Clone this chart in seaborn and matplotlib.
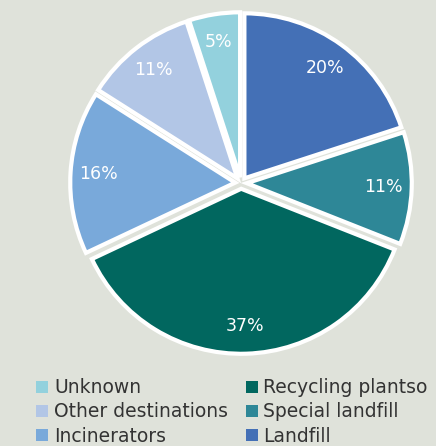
import seaborn as sns
from matplotlib import pyplot as plt
from matplotlib.patches import Patch

# Waste destinations, clockwise from 12 o'clock
labels = ["Landfill", "Special landfill", "Recycling plantso", "Incinerators",
          "Other destinations", "Unknown"]
shares = [20, 11, 37, 16, 11, 5]
colors = ["#4470b6", "#2e8797", "#01675f", "#79a9da", "#b2c6e6", "#93d1dd"]

bg = "#dfe2da"
sns.set_theme(style="white", rc={"figure.facecolor": bg, "axes.facecolor": bg})
plt.rcParams["font.family"] = ["DejaVu Sans"]

fig = plt.figure(figsize=(4.36, 4.46), dpi=100)
W, H = 436, 446
R = 165  # pixels per pie unit
cx, cy = 241, 183
lim = 1.1
size = 2 * lim * R
ax = fig.add_axes([(cx - size / 2) / W, (H - cy - size / 2) / H, size / W, size / H])
ax.set_facecolor(bg)

wedges, texts, autotexts = ax.pie(
    shares, colors=colors, startangle=90, counterclock=False,
    explode=[0.035] * len(shares), autopct="%d%%", pctdistance=0.83,
    wedgeprops=dict(edgecolor="white", linewidth=3),
    textprops=dict(color="white", fontsize=12.5),
)
ax.set_xlim(-lim, lim)
ax.set_ylim(-lim, lim)
ax.set_aspect("equal")
ax.axis("off")

order = [5, 4, 3, 2, 1, 0]
handles = [Patch(facecolor=colors[i], edgecolor="none") for i in order]
fig.legend(handles, [labels[i] for i in order], ncol=2, frameon=False,
           loc="upper left", bbox_to_anchor=(27 / W, 1 - 369 / H),
           fontsize=13.5, handlelength=0.64, handleheight=0.64, handletextpad=0.3,
           labelspacing=0.27, columnspacing=0.95, borderpad=0, labelcolor="#333333")

fig.savefig("out.png", dpi=100, facecolor=bg)
